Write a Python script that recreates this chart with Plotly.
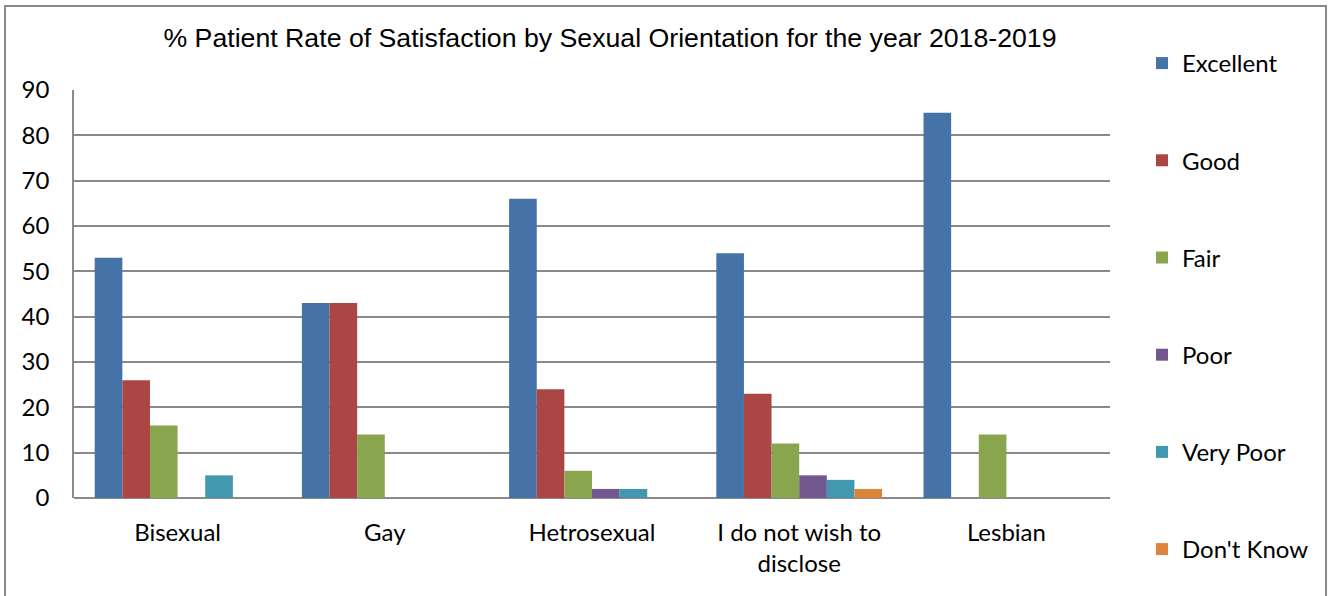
import plotly.graph_objects as go

categories = ["Bisexual", "Gay", "Hetrosexual", "I do not wish to<br>disclose", "Lesbian"]
series_names = ["Excellent", "Good", "Fair", "Poor", "Very Poor", "Don't Know"]
excellent = [53, 43, 66, 54, 85]
good = [26, 43, 24, 23, 0]
fair = [16, 14, 6, 12, 14]
poor = [0, 0, 2, 5, 0]
very_poor = [5, 0, 2, 4, 0]
dont_know = [0, 0, 0, 2, 0]
y_ticks = [0, 10, 20, 30, 40, 50, 60, 70, 80, 90]

colors = ["#4572A7", "#AA4643", "#89A54E", "#71588F", "#4198AF", "#DB843D"]
values = [excellent, good, fair, poor, very_poor, dont_know]

fig = go.Figure()
for name, vals, col in zip(series_names, values, colors):
    fig.add_trace(go.Bar(
        x=categories, y=vals, name=name, legendgroup=name,
        marker=dict(color=col, line=dict(width=0)),
    ))

W, H = 1333, 596
L, R, T, B = 74, 223, 90, 98
pw, ph = W - L - R, H - T - B

def px_x(x):
    return (x - L) / pw

def px_y(y):
    return (H - B - y) / ph

BODY_FONT = "Lato, Carlito, Open Sans, sans-serif"

fig.update_layout(
    width=W, height=H,
    margin=dict(l=L, r=R, t=T, b=B, autoexpand=False),
    paper_bgcolor="white", plot_bgcolor="white",
    barmode="group", bargap=0.2, bargroupgap=0,
    font=dict(family=BODY_FONT, size=24, color="black"),
    title=dict(
        text="% Patient Rate of Satisfaction by Sexual Orientation for the year 2018-2019",
        x=610 / W, xanchor="center", y=1 - 38 / H, yanchor="middle",
        font=dict(family="Liberation Sans, Arial, sans-serif", size=26.7, color="black"),
    ),
    xaxis=dict(
        showgrid=False, showline=False, ticks="",
        ticklabelstandoff=18,
        tickfont=dict(size=24),
        automargin=False,
    ),
    yaxis=dict(
        range=[0, 90], tickvals=y_ticks,
        showgrid=True, gridcolor="#8a8a8a", gridwidth=1.5,
        showline=True, linecolor="#8a8a8a", linewidth=1.5,
        zeroline=True, zerolinecolor="#8a8a8a", zerolinewidth=1.5,
        ticks="", ticklabelstandoff=18,
        tickfont=dict(size=24),
        automargin=False,
    ),
    legend=dict(
        xref="container", yref="container",
        x=1142 / W, xanchor="left", y=1 - 41 / H, yanchor="top",
        tracegroupgap=63, font=dict(size=24),
        bgcolor="rgba(0,0,0,0)", maxheight=1.0,
    ),
    shapes=[
        dict(type="rect", xref="paper", yref="paper",
             x0=px_x(5), x1=px_x(1326), y0=px_y(620), y1=px_y(6),
             line=dict(color="#8a8a8a", width=2), fillcolor="rgba(0,0,0,0)", layer="below"),
    ],
)

fig.write_html("out.html")
